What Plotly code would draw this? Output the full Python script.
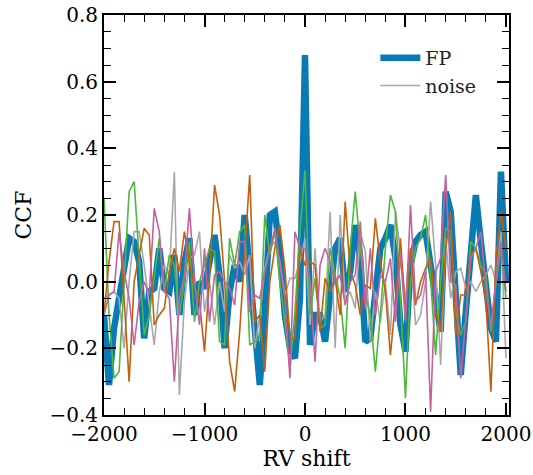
import numpy as np
import plotly.graph_objects as go

# --- data (CCF vs RV shift, step 50) ---
rv_shift = np.arange(-2000, 2001, 50)

ccf_fp = [
    -0.10, -0.31, -0.14, -0.05, 0.05, 0.13, 0.12, 0.06, -0.17, -0.03,
    -0.02, 0.10, -0.02, -0.03, 0.08, -0.10, 0.06, 0.13, -0.10, 0.00,
    -0.02, 0.07, 0.14, 0.02, -0.20, -0.03, 0.05, 0.00, 0.20, 0.03,
    -0.15, -0.31, -0.09, 0.20, 0.21, 0.09, -0.10, -0.20, -0.23, -0.05,
    0.68, -0.19, -0.10, -0.10, -0.18, -0.04, 0.10, 0.13, -0.03, 0.03,
    0.17, 0.07, -0.18, -0.17, -0.03, 0.10, 0.13, 0.17, 0.07, -0.13,
    -0.21, 0.05, 0.12, 0.14, 0.15, 0.05, -0.05, -0.15, 0.27, 0.21,
    -0.04, -0.28, -0.09, 0.07, 0.26, 0.12, 0.00, -0.14, -0.18, 0.33,
    0.00,
]

ccf_noise = [
    -0.05, -0.04, -0.03, -0.05, -0.20, 0.00, 0.15, 0.15, 0.05, -0.07,
    -0.19, -0.03, 0.05, 0.02, 0.33, -0.34, -0.06, 0.07, 0.08, 0.15,
    -0.09, 0.00, -0.13, 0.00, -0.09, 0.08, 0.04, 0.06, 0.02, 0.08,
    -0.20, -0.10, 0.04, 0.10, 0.12, 0.06, -0.04, 0.01, 0.01, 0.06,
    0.13, -0.13, 0.10, -0.12, -0.10, 0.21, -0.20, 0.20, -0.05, -0.03,
    -0.08, 0.15, 0.09, -0.18, -0.03, -0.12, 0.00, -0.16, 0.21, 0.09,
    -0.06, 0.10, -0.13, -0.10, 0.00, 0.24, 0.05, -0.25, 0.13, -0.05,
    0.03, 0.04, -0.02, 0.00, -0.03, 0.00, 0.02, 0.05, 0.00, 0.15,
    -0.23,
]

ccf_green = [
    0.25, -0.10, -0.29, -0.27, 0.00, 0.27, 0.30, 0.07, -0.16, -0.10,
    0.02, 0.13, -0.03, 0.08, 0.05, -0.10, 0.00, 0.12, -0.12, 0.00,
    0.05, 0.10, 0.09, -0.18, -0.19, 0.13, 0.05, 0.15, 0.17, -0.19,
    -0.18, -0.17, 0.20, 0.08, 0.15, 0.00, -0.12, -0.26, -0.09, 0.15,
    0.335, -0.10, 0.01, -0.14, -0.13, 0.10, 0.02, -0.05, -0.20, 0.10,
    0.27, 0.10, -0.04, -0.10, -0.27, -0.10, 0.10, 0.26, 0.21, -0.05,
    -0.35, 0.00, 0.10, 0.13, 0.20, 0.01, -0.22, 0.00, 0.16, 0.15,
    -0.09, -0.16, -0.12, 0.12, 0.10, 0.05, 0.02, -0.15, 0.00, 0.10,
    -0.05,
]

ccf_orange = [
    -0.10, 0.06, 0.18, 0.18, -0.05, -0.30, 0.00, 0.08, 0.16, 0.14,
    -0.13, -0.10, -0.08, 0.03, 0.10, 0.03, 0.15, 0.06, -0.02, -0.06,
    -0.21, 0.01, 0.29, 0.20, 0.00, -0.24, -0.33, -0.15, 0.10, 0.32,
    -0.12, -0.10, -0.27, 0.00, 0.10, 0.17, 0.04, -0.17, -0.17, 0.10,
    0.05, 0.06, 0.05, -0.15, 0.01, -0.03, 0.01, -0.10, 0.24, 0.03,
    -0.01, -0.10, -0.01, -0.02, 0.19, 0.06, -0.03, -0.22, -0.06, 0.13,
    -0.10, 0.10, -0.07, 0.00, 0.04, 0.07, -0.09, -0.15, 0.10, 0.21,
    -0.16, -0.04, -0.04, 0.08, 0.10, 0.03, -0.06, -0.33, 0.07, 0.21,
    0.10,
]

ccf_pink = [
    -0.10, -0.04, -0.03, 0.15, 0.03, -0.05, -0.19, -0.06, 0.00, -0.04,
    0.22, 0.15, -0.03, -0.05, -0.30, -0.05, 0.02, 0.22, 0.00, -0.13,
    0.10, -0.12, 0.02, 0.03, 0.00, -0.02, -0.07, 0.12, 0.12, -0.09,
    -0.04, -0.05, 0.03, 0.10, 0.16, 0.05, -0.05, -0.29, 0.15, 0.10,
    0.10, 0.00, -0.24, 0.05, 0.10, 0.06, 0.00, 0.02, -0.07, 0.00,
    0.02, 0.18, -0.08, 0.10, -0.10, 0.02, 0.00, 0.07, -0.12, 0.08,
    -0.12, 0.23, -0.06, -0.04, 0.03, -0.39, 0.03, 0.07, 0.32, 0.00,
    -0.01, -0.29, -0.10, 0.07, 0.10, 0.15, -0.02, -0.13, 0.00, 0.12,
    -0.03,
]

FONT = "DejaVu Serif"

fig = go.Figure()
fig.add_trace(go.Scatter(x=rv_shift, y=ccf_fp, mode="lines", name="FP",
                         line=dict(color="#0A7AB4", width=6.5)))
fig.add_trace(go.Scatter(x=rv_shift, y=ccf_noise, mode="lines", name="noise",
                         line=dict(color="#A8A8A8", width=1.6)))
fig.add_trace(go.Scatter(x=rv_shift, y=ccf_green, mode="lines", showlegend=False,
                         line=dict(color="#4DB83A", width=1.6)))
fig.add_trace(go.Scatter(x=rv_shift, y=ccf_orange, mode="lines", showlegend=False,
                         line=dict(color="#C2600E", width=1.6)))
fig.add_trace(go.Scatter(x=rv_shift, y=ccf_pink, mode="lines", showlegend=False,
                         line=dict(color="#C2639E", width=1.6)))

axis_style = dict(
    showline=True, linecolor="black", linewidth=2, mirror="allticks",
    ticks="inside", ticklen=12, tickwidth=1.6, tickcolor="black",
    showgrid=False, zeroline=False, ticklabeloverflow="allow",
    tickfont=dict(family=FONT, size=20, color="black"),
)

fig.update_xaxes(
    range=[-2000, 2030], tickmode="linear", tick0=-2000, dtick=1000,
    minor=dict(ticks="inside", ticklen=7, tickwidth=1.2, dtick=200, tick0=-2000,
               tickcolor="black", showgrid=False),
    title=dict(text="RV shift", font=dict(family=FONT, size=22, color="black"), standoff=4),
    **axis_style,
)
fig.update_yaxes(
    range=[-0.4, 0.8], tickmode="linear", tick0=-0.4, dtick=0.2, tickformat=".1f",
    minor=dict(ticks="inside", ticklen=7, tickwidth=1.2, dtick=0.05, tick0=-0.4,
               tickcolor="black", showgrid=False),
    title=dict(text="CCF", font=dict(family=FONT, size=22, color="black"), standoff=12),
    **axis_style,
)

fig.update_layout(
    width=533, height=475,
    margin=dict(l=104, r=24, t=15, b=60, autoexpand=False),
    plot_bgcolor="white", paper_bgcolor="white",
    legend=dict(x=0.67, y=0.94, xanchor="left", yanchor="top",
                bgcolor="rgba(255,255,255,0)", borderwidth=0,
                font=dict(family=FONT, size=19, color="#222"),
                itemwidth=40),
)

# drop the default 8px page margin so the figure fills the window exactly
fig.write_html("out.html", config={"displayModeBar": False},
               post_script="document.body.style.margin = '0';")
